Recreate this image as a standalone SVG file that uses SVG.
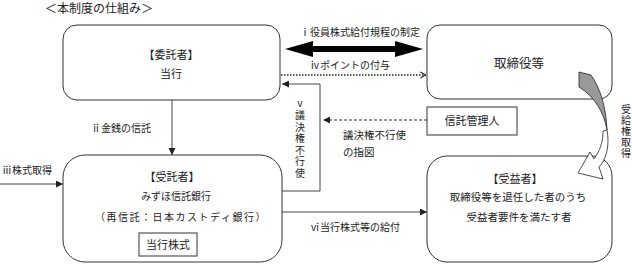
<svg xmlns="http://www.w3.org/2000/svg" width="632" height="264" viewBox="0 0 632 264">
<style>
text{font-family:"Noto Sans CJK JP","Noto Sans",sans-serif;fill:#222}
.box{fill:#fff;stroke:#333;stroke-width:1}
.ln{fill:none;stroke:#444;stroke-width:1}
.c{text-anchor:middle}
.s10{font-size:10px}
.s11{font-size:11px}
.vt{writing-mode:vertical-rl;text-orientation:upright}
</style>
<defs>
<marker id="ah" viewBox="0 0 8 8" refX="8" refY="4" markerWidth="7" markerHeight="7" markerUnits="userSpaceOnUse" orient="auto"><path d="M0,0L8,4L0,8Z" fill="#222"/></marker>
<marker id="ao" viewBox="0 0 8 8" refX="7.5" refY="4" markerWidth="7" markerHeight="8" markerUnits="userSpaceOnUse" orient="auto"><path d="M1,0.5L7.5,4L1,7.5" fill="none" stroke="#222" stroke-width="1.2"/></marker>
</defs>
<text x="45" y="12.5" font-size="12">＜本制度の仕組み＞</text>
<g id="itakusha">
<rect class="box" x="63" y="25" width="217" height="75" rx="14"/>
<text x="171" y="59" class="c s11">【委託者】</text>
<text x="171" y="78" class="c s11">当行</text>
</g>
<g id="torishimariyaku">
<rect class="box" x="427" y="25" width="185" height="74" rx="13"/>
<text x="519" y="67.7" class="c" font-size="12.5">取締役等</text>
</g>
<g id="shintakukanrinin">
<rect class="box" x="427" y="107" width="90" height="28"/>
<text x="472" y="125" class="c s11">信託管理人</text>
</g>
<g id="jutakusha">
<rect class="box" x="63" y="155" width="219" height="107" rx="22"/>
<text x="172" y="181" class="c s11">【受託者】</text>
<text x="176" y="200" class="c s10">みずほ信託銀行</text>
<text x="181" y="221" class="c s10" letter-spacing="1.5">（再信託：日本カストディ銀行）</text>
<rect class="box" x="139" y="233" width="58" height="23"/>
<text x="168" y="248.7" class="c s11">当行株式</text>
</g>
<g id="jueki">
<rect class="box" x="427" y="156" width="185" height="106" rx="20"/>
<text x="515" y="183" class="c s11">【受益者】</text>
<text x="518" y="201" class="c" font-size="10.5">取締役等を退任した者のうち</text>
<text x="519" y="221" class="c" font-size="10.5">受益者要件を満たす者</text>
</g>
<g id="connectors">
<polygon points="285,49 313,41 313,46 395,46 395,41 423,49 395,57 395,52 313,52 313,57" fill="#000"/>
<text x="360" y="35.8" class="c s10">ⅰ役員株式給付規程の制定</text>
<line x1="281" y1="75" x2="426" y2="75" stroke="#222" stroke-width="1.4" stroke-dasharray="1.5 1.5" marker-end="url(#ao)"/>
<text x="350" y="68.8" class="c s10">ⅳポイントの付与</text>
<polyline class="ln" points="282,191 320,191 320,84 282,84" marker-end="url(#ah)"/>
<text x="300" y="99" class="s10 vt" letter-spacing="1.5">ⅴ議決権不行使</text>
<line x1="427" y1="120" x2="323" y2="120" stroke="#333" stroke-width="1.2" stroke-dasharray="3 2" marker-end="url(#ah)"/>
<text x="343" y="139" font-size="10.5">議決権不行使</text>
<text x="343" y="156" font-size="10.5">の指図</text>
<line class="ln" x1="172" y1="100" x2="172" y2="155" marker-end="url(#ah)"/>
<text x="121" y="132" class="c s10">ⅱ金銭の信託</text>
<line class="ln" x1="0" y1="184" x2="63" y2="184" marker-end="url(#ah)"/>
<text x="2" y="174" class="s10">ⅲ株式取得</text>
<line class="ln" x1="282" y1="212" x2="427" y2="212" marker-end="url(#ah)"/>
<text x="355" y="231" class="c s10">ⅵ当行株式等の給付</text>
<path d="M579,72 L591,75 C600,88 606,106 607,130 C604,112 594,96 579,87 Z" fill="#999" stroke="#222" stroke-width="0.8"/>
<path d="M607,130 C610,146 606,160 599,167 L603,179 L578,173 L590,152 L594,159 C600,151 603,142 603,131 Z" fill="#fff" stroke="#222" stroke-width="0.8"/>
<text x="626" y="104" class="s10 vt" letter-spacing="1">受給権取得</text>
</g>
</svg>
